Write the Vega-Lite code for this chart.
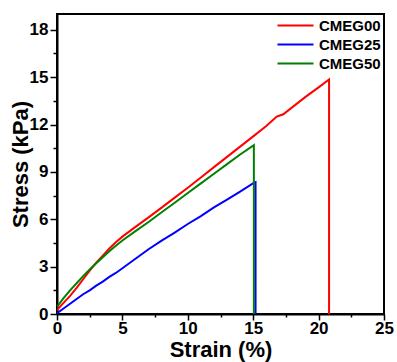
{
  "$schema": "https://vega.github.io/schema/vega-lite/v6.json",
  "width": 327,
  "height": 300,
  "autosize": "none",
  "padding": {"left": 57, "top": 14, "right": 13, "bottom": 48},
  "background": "white",
  "config": {
    "view": {"stroke": "black", "strokeWidth": 2},
    "font": "Liberation Sans",
    "axis": {
      "domainColor": "black",
      "domainWidth": 2,
      "tickColor": "black",
      "tickWidth": 1.5,
      "grid": false,
      "labelFont": "Liberation Sans",
      "labelFontWeight": "bold",
      "labelFontSize": 17,
      "labelColor": "black",
      "titleFont": "Liberation Sans",
      "titleFontWeight": "bold",
      "titleFontSize": 22,
      "titleColor": "black"
    },
    "legend": {
      "labelFont": "Liberation Sans",
      "labelFontWeight": "bold",
      "labelFontSize": 15,
      "labelColor": "black"
    }
  },
  "data": {
    "values": [
      {"series": "CMEG00", "i": 0, "strain": 0, "stress": 0.25},
      {"series": "CMEG00", "i": 1, "strain": 0.5, "stress": 0.7},
      {"series": "CMEG00", "i": 2, "strain": 1, "stress": 1.15},
      {"series": "CMEG00", "i": 3, "strain": 1.5, "stress": 1.65},
      {"series": "CMEG00", "i": 4, "strain": 2, "stress": 2.2},
      {"series": "CMEG00", "i": 5, "strain": 2.5, "stress": 2.75},
      {"series": "CMEG00", "i": 6, "strain": 3, "stress": 3.25},
      {"series": "CMEG00", "i": 7, "strain": 3.5, "stress": 3.7},
      {"series": "CMEG00", "i": 8, "strain": 4, "stress": 4.15},
      {"series": "CMEG00", "i": 9, "strain": 4.5, "stress": 4.55},
      {"series": "CMEG00", "i": 10, "strain": 5, "stress": 4.9},
      {"series": "CMEG00", "i": 11, "strain": 6, "stress": 5.52},
      {"series": "CMEG00", "i": 12, "strain": 7, "stress": 6.12},
      {"series": "CMEG00", "i": 13, "strain": 8, "stress": 6.74},
      {"series": "CMEG00", "i": 14, "strain": 9, "stress": 7.37},
      {"series": "CMEG00", "i": 15, "strain": 10, "stress": 8.0},
      {"series": "CMEG00", "i": 16, "strain": 11, "stress": 8.65},
      {"series": "CMEG00", "i": 17, "strain": 12, "stress": 9.3},
      {"series": "CMEG00", "i": 18, "strain": 13, "stress": 9.95},
      {"series": "CMEG00", "i": 19, "strain": 14, "stress": 10.6},
      {"series": "CMEG00", "i": 20, "strain": 15, "stress": 11.25},
      {"series": "CMEG00", "i": 21, "strain": 16, "stress": 11.9},
      {"series": "CMEG00", "i": 22, "strain": 16.8, "stress": 12.5},
      {"series": "CMEG00", "i": 23, "strain": 17.3, "stress": 12.65},
      {"series": "CMEG00", "i": 24, "strain": 18, "stress": 13.1},
      {"series": "CMEG00", "i": 25, "strain": 19, "stress": 13.75},
      {"series": "CMEG00", "i": 26, "strain": 20, "stress": 14.35},
      {"series": "CMEG00", "i": 27, "strain": 20.8, "stress": 14.85},
      {"series": "CMEG00", "i": 28, "strain": 20.8, "stress": 0},
      {"series": "CMEG25", "i": 0, "strain": 0, "stress": 0.05},
      {"series": "CMEG25", "i": 1, "strain": 0.5, "stress": 0.35},
      {"series": "CMEG25", "i": 2, "strain": 1, "stress": 0.65},
      {"series": "CMEG25", "i": 3, "strain": 1.5, "stress": 0.95},
      {"series": "CMEG25", "i": 4, "strain": 2, "stress": 1.25},
      {"series": "CMEG25", "i": 5, "strain": 2.5, "stress": 1.5},
      {"series": "CMEG25", "i": 6, "strain": 3, "stress": 1.8},
      {"series": "CMEG25", "i": 7, "strain": 3.5, "stress": 2.05},
      {"series": "CMEG25", "i": 8, "strain": 4, "stress": 2.35},
      {"series": "CMEG25", "i": 9, "strain": 4.5, "stress": 2.6},
      {"series": "CMEG25", "i": 10, "strain": 5, "stress": 2.9},
      {"series": "CMEG25", "i": 11, "strain": 6, "stress": 3.5},
      {"series": "CMEG25", "i": 12, "strain": 7, "stress": 4.1},
      {"series": "CMEG25", "i": 13, "strain": 8, "stress": 4.65},
      {"series": "CMEG25", "i": 14, "strain": 9, "stress": 5.15},
      {"series": "CMEG25", "i": 15, "strain": 10, "stress": 5.7},
      {"series": "CMEG25", "i": 16, "strain": 11, "stress": 6.2},
      {"series": "CMEG25", "i": 17, "strain": 12, "stress": 6.75},
      {"series": "CMEG25", "i": 18, "strain": 13, "stress": 7.25},
      {"series": "CMEG25", "i": 19, "strain": 14, "stress": 7.75},
      {"series": "CMEG25", "i": 20, "strain": 15.1, "stress": 8.33},
      {"series": "CMEG25", "i": 21, "strain": 15.18, "stress": 8.35},
      {"series": "CMEG25", "i": 22, "strain": 15.18, "stress": 0},
      {"series": "CMEG50", "i": 0, "strain": 0, "stress": 0.45},
      {"series": "CMEG50", "i": 1, "strain": 0.5, "stress": 1.0},
      {"series": "CMEG50", "i": 2, "strain": 1, "stress": 1.5},
      {"series": "CMEG50", "i": 3, "strain": 1.5, "stress": 1.95},
      {"series": "CMEG50", "i": 4, "strain": 2, "stress": 2.4},
      {"series": "CMEG50", "i": 5, "strain": 2.5, "stress": 2.82},
      {"series": "CMEG50", "i": 6, "strain": 3, "stress": 3.22},
      {"series": "CMEG50", "i": 7, "strain": 3.5, "stress": 3.6},
      {"series": "CMEG50", "i": 8, "strain": 4, "stress": 3.97},
      {"series": "CMEG50", "i": 9, "strain": 4.5, "stress": 4.32},
      {"series": "CMEG50", "i": 10, "strain": 5, "stress": 4.66},
      {"series": "CMEG50", "i": 11, "strain": 6, "stress": 5.25},
      {"series": "CMEG50", "i": 12, "strain": 7, "stress": 5.83},
      {"series": "CMEG50", "i": 13, "strain": 8, "stress": 6.44},
      {"series": "CMEG50", "i": 14, "strain": 9, "stress": 7.05},
      {"series": "CMEG50", "i": 15, "strain": 10, "stress": 7.66},
      {"series": "CMEG50", "i": 16, "strain": 11, "stress": 8.27},
      {"series": "CMEG50", "i": 17, "strain": 12, "stress": 8.88},
      {"series": "CMEG50", "i": 18, "strain": 13, "stress": 9.49},
      {"series": "CMEG50", "i": 19, "strain": 14, "stress": 10.1},
      {"series": "CMEG50", "i": 20, "strain": 15.05, "stress": 10.7},
      {"series": "CMEG50", "i": 21, "strain": 15.05, "stress": 0}
    ]
  },
  "mark": {"type": "line", "strokeWidth": 2, "clip": true},
  "encoding": {
    "x": {
      "field": "strain",
      "type": "quantitative",
      "scale": {"domain": [0, 25], "nice": false, "zero": false},
      "axis": {
        "title": "Strain (%)",
        "values": [0, 2.5, 5, 7.5, 10, 12.5, 15, 17.5, 20, 22.5, 25],
        "labelExpr": "datum.value % 5 === 0 ? format(datum.value, 'd') : ''",
        "tickSize": {"condition": {"test": "datum.value % 5 === 0", "value": 6}, "value": 3},
        "labelPadding": 0,
        "titlePadding": 0,
        "titleY": 25,
        "titleBaseline": "top",
        "labelFlush": false,
        "labelOverlap": false
      }
    },
    "y": {
      "field": "stress",
      "type": "quantitative",
      "scale": {"domain": [0, 19], "nice": false, "zero": false},
      "axis": {
        "title": "Stress (kPa)",
        "values": [0, 1.5, 3, 4.5, 6, 7.5, 9, 10.5, 12, 13.5, 15, 16.5, 18],
        "labelExpr": "datum.value % 3 === 0 ? format(datum.value, 'd') : ''",
        "tickSize": {"condition": {"test": "datum.value % 3 === 0", "value": 7}, "value": 4},
        "labelPadding": 2,
        "titlePadding": -3,
        "labelFlush": false,
        "labelOverlap": false
      }
    },
    "color": {
      "field": "series",
      "type": "nominal",
      "scale": {"domain": ["CMEG00", "CMEG25", "CMEG50"], "range": ["#ff0000", "#0000ff", "#008000"]},
      "legend": {
        "title": null,
        "orient": "none",
        "legendX": 231,
        "legendY": 4,
        "padding": 0,
        "symbolType": "M-3,0H3",
        "symbolSize": 144,
        "symbolStrokeWidth": 2,
        "labelOffset": 16,
        "rowPadding": 3
      }
    },
    "order": {"field": "i", "type": "quantitative"}
  }
}
